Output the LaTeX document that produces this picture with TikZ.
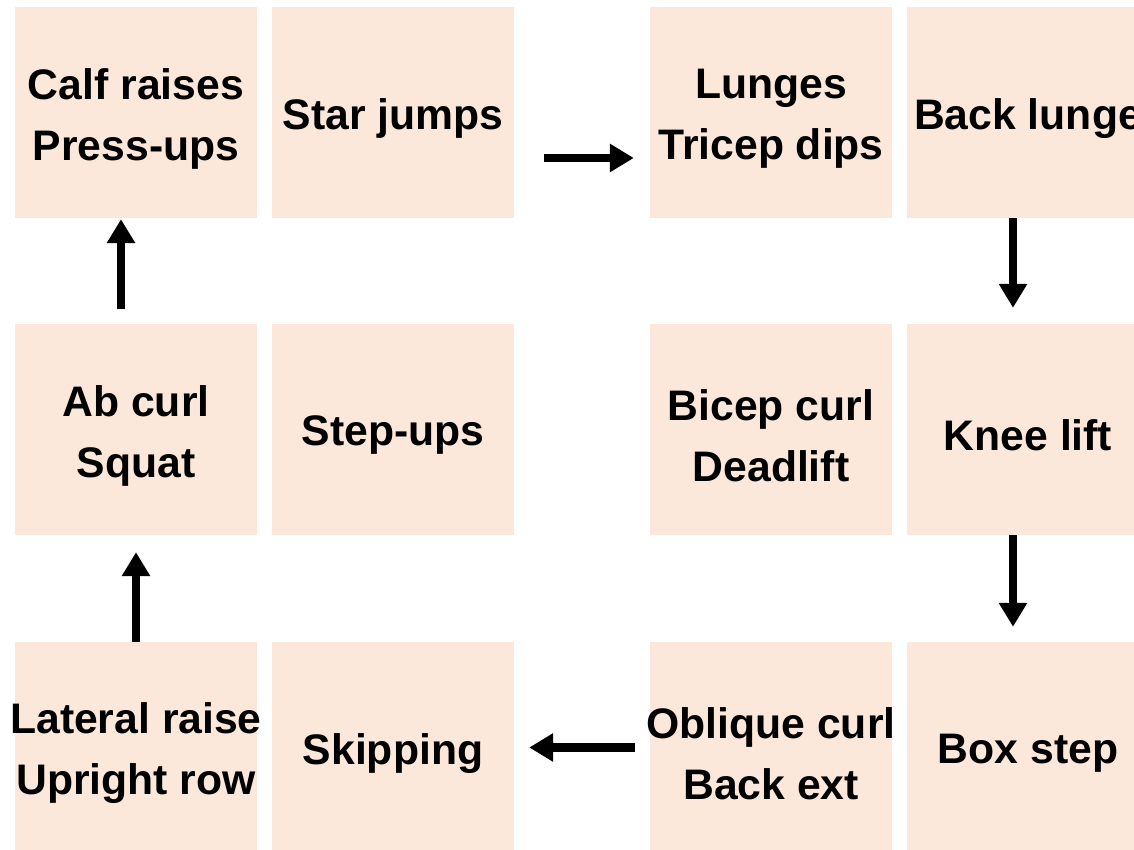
\documentclass[tikz,border=0pt]{standalone}
\usepackage{fontspec}
\setmainfont{Liberation Sans}
\usepackage{xcolor}
\usetikzlibrary{positioning,arrows.meta}

\definecolor{peach}{HTML}{FCE8DA}

\begin{document}
\begin{tikzpicture}[
  x=1pt, y=1pt,
  txt/.style={font=\bfseries\fontsize{42.7}{61}\selectfont, align=center, inner sep=0pt, yshift=-6pt},
  cell/.style={fill=peach, minimum width=242pt, minimum height=211pt, inner sep=0pt, label={[txt]center:#1}},
  arr/.style={-{Triangle[width=27pt,length=24pt]}, line width=8.5pt}
]
\useasboundingbox (0,0) rectangle (1134,849);
\clip (0,0) rectangle (1134,849);

% top row
\node[cell={Calf raises\\Press-ups}] (calf) at (136,736.5) {};
\node[cell={Star jumps}] (star) at (393,736.5) {};
\node[cell={Lunges\\Tricep dips}] (lunges) at (771,736.5) {};
\node[cell={Back lunge}] (back) at (1028,736.5) {};

% middle row
\node[cell={Ab curl\\Squat}] (abcurl) at (136,419.5) {};
\node[cell={Step-ups}] (stepups) at (393,419.5) {};
\node[cell={Bicep curl\\Deadlift}] (bicep) at (771,419.5) {};
\node[cell={Knee lift}] (knee) at (1028,419.5) {};

% bottom row
\node[cell={Lateral raise\\Upright row}] (lateral) at (136,101.5) {};
\node[cell={Skipping}] (skipping) at (393,101.5) {};
\node[cell={Oblique curl\\Back ext}] (oblique) at (771,101.5) {};
\node[cell={Box step}] (boxstep) at (1028,101.5) {};

% circuit order
\draw[arr] ([xshift=30pt,yshift=-45.5pt]star.east) -- ([xshift=-16pt,yshift=-45.5pt]lunges.west);
\draw[arr] ([xshift=-15pt]back.south) -- ([xshift=-15pt,yshift=16pt]knee.north);
\draw[arr] ([xshift=-15pt]knee.south) -- ([xshift=-15pt,yshift=15pt]boxstep.north);
\draw[arr] ([xshift=-15pt]oblique.west) -- ([xshift=15pt]skipping.east);
\draw[arr] (lateral.north) -- ([yshift=-17pt]abcurl.south);
\draw[arr] ([xshift=-15pt,yshift=15pt]abcurl.north) -- ([xshift=-15pt,yshift=-1pt]calf.south);
\end{tikzpicture}
\end{document}
